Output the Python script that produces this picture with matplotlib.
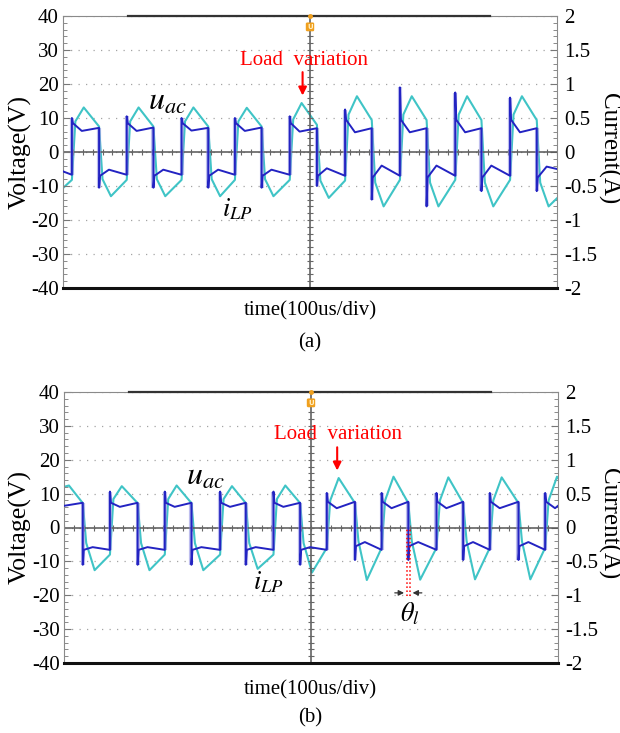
import matplotlib.pyplot as plt

plt.rcParams['font.family'] = ['Liberation Serif', 'DejaVu Serif']
plt.rcParams['mathtext.fontset'] = 'stix'
plt.rcParams['axes.unicode_minus'] = False

U_COLOR = '#2323c2'
I_COLOR = '#3fc4c6'
EDGE_COLOR = '#8a8ae0'
GRID_COLOR = '#a4a4a4'

# time in divisions (100 us/div), u_ac in V, i_LP in A

# ---- panel (a): square-wave edges
a_rise = [0.18, 1.29, 2.40, 3.48, 4.59, 5.71, 6.82, 7.94, 9.05]
a_fall = [0.73, 1.83, 2.94, 4.02, 5.14, 6.25, 7.36, 8.47, 9.59]
# u_ac levels: at t=0 and just before the first edge
a_u_head = [-5.7, -6.7]
# positive halves
a_u_rise_spike = [10.0, 10.5, 10.0, 10.0, 10.5, 12.5, 19.0, 17.5, 16.0]
a_u_hi_start = [8.5, 8.5, 8.5, 8.5, 8.5, 9.5, 9.5, 9.5, 9.5]
a_u_hi_mid = [6.2, 6.2, 6.3, 6.2, 6.0, 5.8, 5.8, 5.8, 5.8]
a_u_hi_end = [7.1, 7.2, 7.1, 7.2, 7.0, 7.0, 7.0, 7.0, 7.0]
# negative halves
a_u_fall_spike = [-10.5, -10.5, -10.5, -10.5, -10.0, -14.0, -16.0, -11.5, -11.5]
a_u_lo_start = [-7.0, -7.0, -7.0, -7.0, -7.0, -7.5, -7.5, -7.5, -7.5]
a_u_lo_mid = [-5.2, -5.2, -5.2, -5.2, -4.8, -4.0, -4.0, -4.0, -4.3]
a_u_lo_end = [-6.7, -6.7, -6.7, -6.7, -7.0, -7.0, -7.0, -7.0, -5.0]
# i_LP
a_i_head_t = [0.0]
a_i_head = [-0.53]
a_i_rise = [-0.41, -0.41, -0.41, -0.41, -0.41, -0.42, -0.41, -0.41, -0.41]
a_i_rise_knee = [0.45, 0.45, 0.45, 0.45, 0.48, 0.55, 0.55, 0.55, 0.55]
a_i_peak = [0.655, 0.655, 0.655, 0.65, 0.72, 0.82, 0.82, 0.82, 0.82]
a_i_fall = [0.375, 0.375, 0.375, 0.375, 0.40, 0.47, 0.47, 0.47, 0.47]
a_i_fall_knee = [-0.40, -0.40, -0.40, -0.40, -0.42, -0.45, -0.45, -0.45, -0.45]
a_i_trough = [-0.65, -0.65, -0.65, -0.65, -0.675, -0.80, -0.80, -0.80, -0.80]
a_i_tail = -0.68

# ---- panel (b): starts in the positive half
b_fall = [0.38, 1.49, 2.58, 3.68, 4.78, 5.89, 6.97, 8.08, 9.20]
b_rise = [0.93, 2.04, 3.16, 4.24, 5.32, 6.43, 7.54, 8.62, 9.74]
b_u_head = [6.4, 7.3]
b_u_fall_spike = [-11.0, -11.0, -11.0, -11.0, -11.0, -9.6, -9.6, -9.6, -9.6]
b_u_lo_start = [-6.6, -6.6, -6.6, -6.6, -6.6, -5.5, -5.5, -5.5, -5.5]
b_u_lo_mid = [-5.8, -5.8, -5.8, -5.8, -5.8, -4.3, -4.3, -4.3, -4.3]
b_u_lo_end = [-6.6, -6.6, -6.6, -6.6, -6.6, -6.6, -6.6, -6.6, -6.6]
b_u_rise_spike = [10.6, 10.6, 10.6, 10.6, 10.2, 10.2, 10.2, 10.2, 10.2]
b_u_hi_start = [7.3, 7.3, 7.3, 7.3, 7.6, 7.6, 7.6, 7.6, 7.6]
b_u_hi_mid = [6.1, 6.1, 6.1, 6.1, 5.7, 5.7, 5.7, 5.7, 5.7]
b_u_hi_end = [7.3, 7.3, 7.3, 7.3, 7.6, 7.6, 7.6, 7.6, 6.4]
b_i_head_t = [0.0, 0.10]
b_i_head = [0.60, 0.62]
b_i_fall = [0.36, 0.36, 0.36, 0.36, 0.36, 0.36, 0.36, 0.36, 0.36]
b_i_fall_knee = [-0.23, -0.23, -0.23, -0.23, -0.23, -0.20, -0.20, -0.20, -0.20]
b_i_trough = [-0.63, -0.63, -0.63, -0.61, -0.665, -0.775, -0.77, -0.765, -0.765]
b_i_rise = [-0.40, -0.40, -0.40, -0.40, -0.30, -0.30, -0.30, -0.30, -0.30]
b_i_rise_knee = [0.42, 0.42, 0.42, 0.42, 0.40, 0.40, 0.40, 0.40, 0.40]
b_i_peak = [0.61, 0.62, 0.61, 0.62, 0.73, 0.75, 0.74, 0.74, 0.75]
b_i_tail = 0.73

v_ticks = [40, 30, 20, 10, 0, -10, -20, -30, -40]
i_ticks = [2, 1.5, 1, 0.5, 0, -0.5, -1, -1.5, -2]


def interleave(first, second):
    out = []
    for x, y in zip(first, second):
        out += [x, y]
    return out


def voltage_trace(edges, head, spike, start, mid, end):
    t = [0.0, edges[0]]
    u = [head[0], head[1]]
    pre = [head[1]] + list(end[:-1])
    for k, e in enumerate(edges):
        nxt = edges[k + 1] if k + 1 < len(edges) else 10.0
        t += [e, e + 0.02, e + 0.2, nxt]
        u += [spike[k], start[k], mid[k], end[k]]
    return t, u, pre


def current_trace(edges, head_t, head_i, at_edge, knee, extreme, tail):
    t = list(head_t)
    i = list(head_i)
    for k, e in enumerate(edges):
        t += [e, e + 0.07, e + 0.24]
        i += [at_edge[k], knee[k], extreme[k]]
    t.append(10.0)
    i.append(tail)
    return t, i


def px(x, y):
    return x / 620, 1 - y / 733


def draw_panel(rect, edges, u_parts, i_parts):
    ax2 = fig.add_axes(rect)
    ax = ax2.twinx()
    ax.yaxis.tick_left()
    ax2.yaxis.tick_right()
    ax.set_zorder(ax2.get_zorder() + 1)
    ax.patch.set_visible(False)

    ax.set_xlim(0, 10)
    ax.set_ylim(-40, 40)
    ax2.set_xlim(0, 10)
    ax2.set_ylim(-2, 2)

    ax2.set_xticks(range(11))
    ax2.set_xticklabels([])
    ax2.tick_params(axis='x', length=0)
    ax2.set_yticks(i_ticks)
    ax2.set_yticklabels(['%g' % v for v in i_ticks], fontsize=15)
    ax2.set_yticks([v / 10 for v in range(-20, 21)], minor=True)
    ax2.tick_params(axis='y', which='both', direction='in', color='#777777', pad=5)
    ax2.tick_params(axis='y', which='major', length=5)
    ax2.tick_params(axis='y', which='minor', length=3)
    ax2.grid(True, color=GRID_COLOR, linestyle=(0, (1, 5)), linewidth=0.9)

    ax.set_yticks(v_ticks)
    ax.set_yticklabels(['%d' % v for v in v_ticks], fontsize=15)
    ax.set_yticks(range(-40, 41, 2), minor=True)
    ax.tick_params(axis='y', which='both', direction='in', color='#777777', pad=3)
    ax.tick_params(axis='y', which='major', length=5)
    ax.tick_params(axis='y', which='minor', length=3)
    ax.set_xticks([])

    for a in (ax, ax2):
        for s in a.spines.values():
            s.set_visible(False)
    for side in ('left', 'right', 'top'):
        ax.spines[side].set_visible(True)
        ax.spines[side].set_color('#8a8a8a')
    ax.spines['top'].set_linewidth(0.8)
    ax.spines['bottom'].set_visible(True)
    ax.spines['bottom'].set_color('#111111')
    ax.spines['bottom'].set_linewidth(2.2)
    ax.plot([1.32, 8.65], [40, 40], color='#333333', lw=1.6, clip_on=False, zorder=5)

    # centre cross with small ticks
    ax.axhline(0, color='#555555', lw=1.1, zorder=1)
    ax.axvline(5, color='#555555', lw=1.1, zorder=1)
    sub_x = [k / 5 for k in range(51)]
    sub_y = list(range(-40, 41, 2))
    ax.plot(sub_x, [0] * len(sub_x), ls='none', marker='|', ms=4, color='#666666', mew=0.8)
    ax.plot([5] * len(sub_y), sub_y, ls='none', marker='_', ms=4, color='#666666', mew=0.8)

    # trigger marker
    ax.text(5, 36.8, 'U', fontsize=5, color='#fff0c8', ha='center', va='center',
            family='DejaVu Sans', fontweight='bold',
            bbox=dict(boxstyle='round,pad=0.2', fc='#f0a01e', ec='none'), zorder=6)
    ax.plot(5, 40, marker='o', ms=2.5, color='#f0a01e', clip_on=False, zorder=6)

    t_u, u, pre = voltage_trace(edges, *u_parts)
    spikes = u_parts[1]
    ax.vlines(edges, [min(p, s) for p, s in zip(pre, spikes)],
              [max(p, s) for p, s in zip(pre, spikes)],
              color=EDGE_COLOR, lw=3, alpha=0.55, zorder=2)
    ax.plot(t_u, u, color=U_COLOR, lw=1.4, zorder=3)

    t_i, i = current_trace(edges, *i_parts)
    ax2.plot(t_i, i, color=I_COLOR, lw=1.5, zorder=2)
    return ax


fig = plt.figure(figsize=(6.2, 7.33), dpi=100)

# (a)
edges_a = interleave(a_rise, a_fall)
ax_a = draw_panel([63 / 620, 445 / 733, 494 / 620, 272 / 733], edges_a,
                  (a_u_head, interleave(a_u_rise_spike, a_u_fall_spike),
                   interleave(a_u_hi_start, a_u_lo_start),
                   interleave(a_u_hi_mid, a_u_lo_mid),
                   interleave(a_u_hi_end, a_u_lo_end)),
                  (a_i_head_t, a_i_head, interleave(a_i_rise, a_i_fall),
                   interleave(a_i_rise_knee, a_i_fall_knee),
                   interleave(a_i_peak, a_i_trough), a_i_tail))
ax_a.text(4.87, 27, 'Load  variation', color='red', fontsize=15, ha='center', va='center')
ax_a.annotate('', xy=(4.85, 15.8), xytext=(4.85, 24.3),
              arrowprops=dict(arrowstyle='-|>', color='red', lw=1.5, mutation_scale=12))
ax_a.text(1.72, 12.4, r'$u_{ac}$', fontsize=23, ha='left', va='baseline', zorder=7)
ax_a.text(3.22, -19.0, r'$i_{LP}$', fontsize=19, ha='left', va='baseline', zorder=7)

# (b)
edges_b = interleave(b_fall, b_rise)
ax_b = draw_panel([64 / 620, 70 / 733, 494 / 620, 271 / 733], edges_b,
                  (b_u_head, interleave(b_u_fall_spike, b_u_rise_spike),
                   interleave(b_u_lo_start, b_u_hi_start),
                   interleave(b_u_lo_mid, b_u_hi_mid),
                   interleave(b_u_lo_end, b_u_hi_end)),
                  (b_i_head_t, b_i_head, interleave(b_i_fall, b_i_rise),
                   interleave(b_i_fall_knee, b_i_rise_knee),
                   interleave(b_i_trough, b_i_peak), b_i_tail))
ax_b.text(5.54, 27.4, 'Load  variation', color='red', fontsize=15, ha='center', va='center')
ax_b.annotate('', xy=(5.53, 16.0), xytext=(5.53, 24.5),
              arrowprops=dict(arrowstyle='-|>', color='red', lw=1.5, mutation_scale=12))
ax_b.text(2.47, 12.5, r'$u_{ac}$', fontsize=23, ha='left', va='baseline', zorder=7)
ax_b.text(3.83, -18.4, r'$i_{LP}$', fontsize=19, ha='left', va='baseline', zorder=7)
ax_b.vlines([6.94, 7.0], -20.3, 0, colors='red', linestyles=':', lw=1.1, zorder=6)
ax_b.annotate('', xy=(6.94, -19.3), xytext=(6.64, -19.3),
              arrowprops=dict(arrowstyle='-|>', color='#333333', lw=0.9, mutation_scale=8))
ax_b.annotate('', xy=(7.0, -19.3), xytext=(7.3, -19.3),
              arrowprops=dict(arrowstyle='-|>', color='#333333', lw=0.9, mutation_scale=8))
ax_b.text(6.8, -27.6, r'$\theta_l$', fontsize=19, ha='left', va='baseline', zorder=7)

# outer labels
for yc, ytime, ytag, tag in [(152, 311, 343, '(a)'), (527, 690, 718, '(b)')]:
    fig.text(*px(20, yc), 'Voltage(V)', rotation=90, fontsize=18.5, ha='center', va='center')
    fig.text(*px(609, yc - 3), 'Current(A)', rotation=270, fontsize=18, ha='center', va='center')
    fig.text(*px(310, ytime), 'time(100us/div)', fontsize=15, ha='center', va='center')
    fig.text(*px(310, ytag), tag, fontsize=15, ha='center', va='center')

fig.savefig('out.png', dpi=100)
